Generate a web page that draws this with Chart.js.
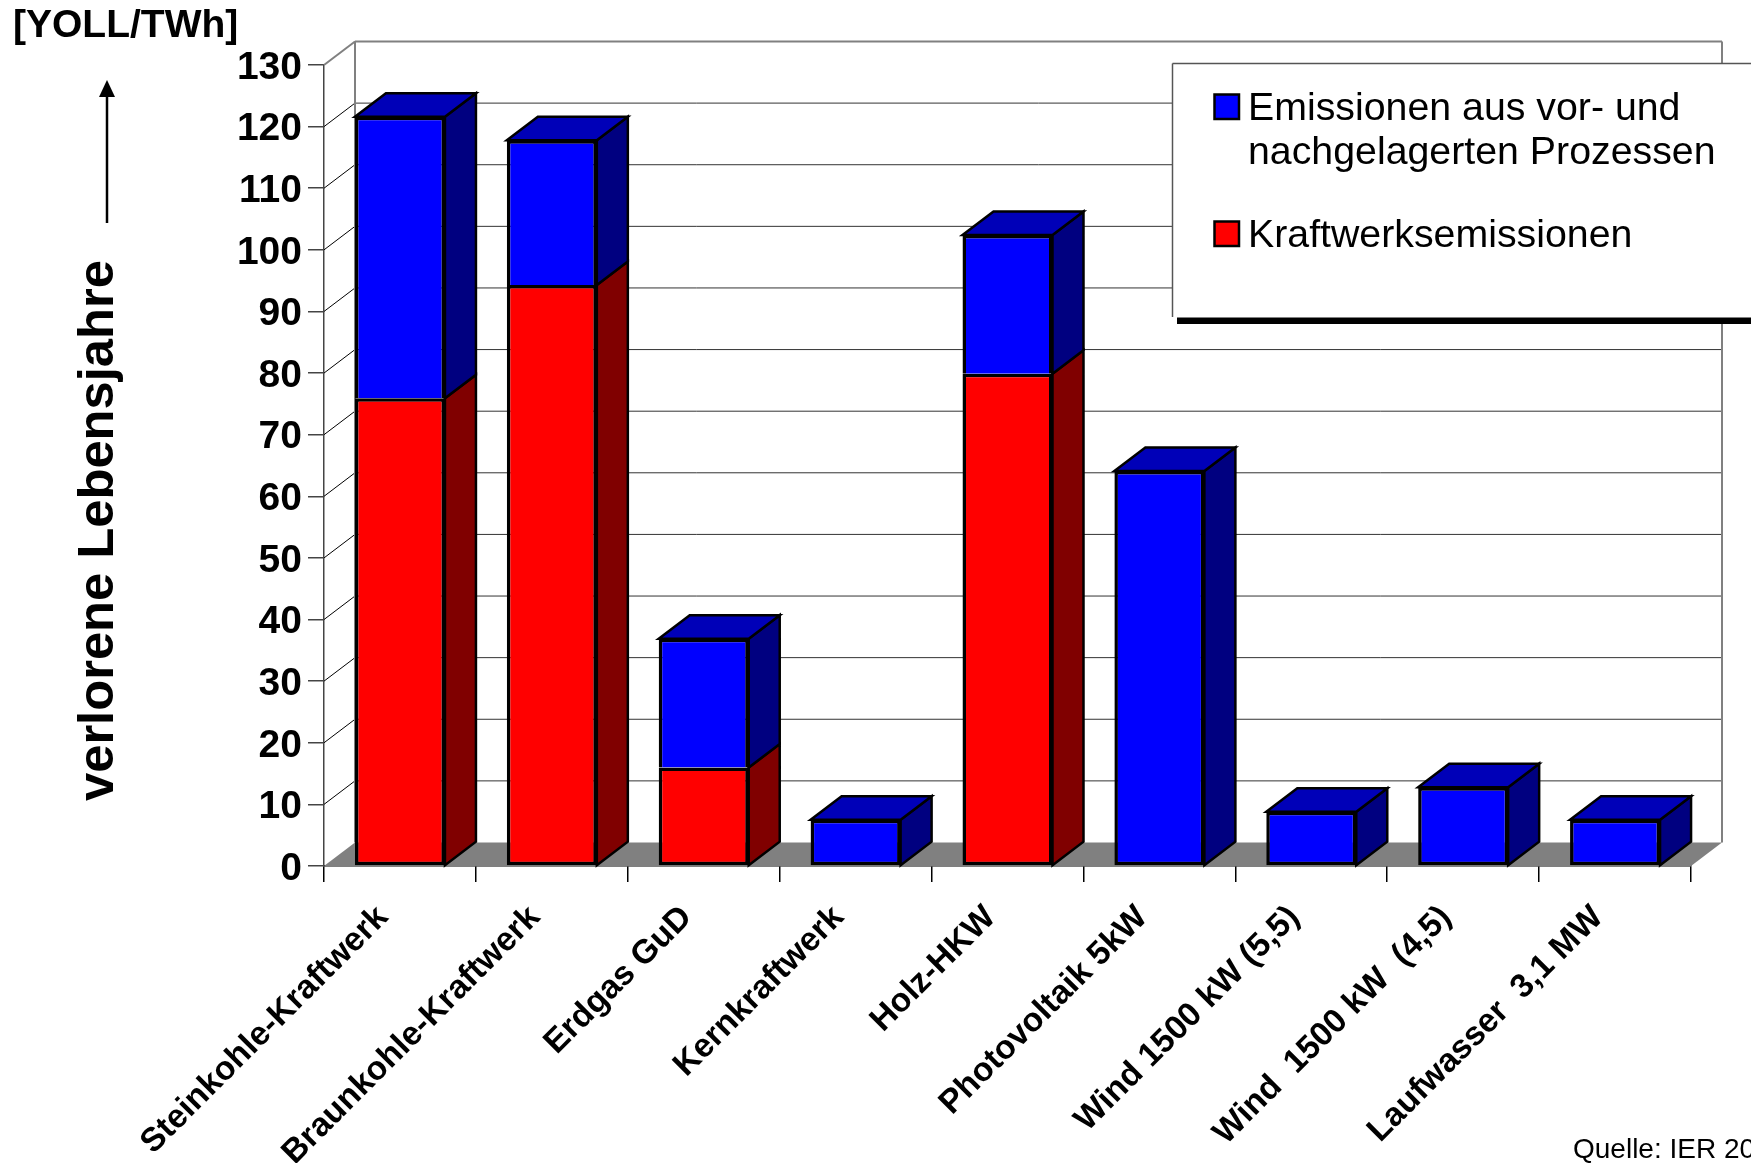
<!DOCTYPE html>
<html>
<head>
<meta charset="utf-8">
<script src="https://cdn.jsdelivr.net/npm/chart.js@4"></script>
<style>
  html, body { margin: 0; padding: 0; background: #fff; overflow: hidden; }
  #myChart { display: block; }
</style>
</head>
<body>
<canvas id="myChart" width="1751" height="1163"></canvas>
<script>
const categories = ['Steinkohle-Kraftwerk', 'Braunkohle-Kraftwerk', 'Erdgas GuD', 'Kernkraftwerk', 'Holz-HKW',
  'Photovoltaik 5kW', 'Wind 1500 kW (5,5)', 'Wind  1500 kW  (4,5)', 'Laufwasser  3,1 MW'];
const kraftwerkValues = [75.9, 94.3, 16, null, 79.9, null, null, null, null];
const prozessValues = [45.7, 23.5, 20.9, 7.5, 22.5, 64.1, 8.8, 12.8, 7.5];

const legendLines = ['Emissionen aus vor- und', 'nachgelagerten Prozessen', 'Kraftwerksemissionen'];
const unitLabel = '[YOLL/TWh]';
const axisLabel = 'verlorene Lebensjahre';
const sourceLabel = 'Quelle: IER 20';

const FONT = '"Liberation Sans", Arial, sans-serif';
// how far the back wall sits behind the front plane
const DEPTH_X = 31;
const DEPTH_Y = 23.5;

function poly(ctx, pts, fill, stroke, lw) {
  ctx.beginPath();
  pts.forEach((p, i) => i ? ctx.lineTo(p[0], p[1]) : ctx.moveTo(p[0], p[1]));
  ctx.closePath();
  if (fill) { ctx.fillStyle = fill; ctx.fill(); }
  if (stroke) { ctx.strokeStyle = stroke; ctx.lineWidth = lw; ctx.stroke(); }
}

function line(ctx, x1, y1, x2, y2, color, lw) {
  ctx.beginPath();
  ctx.moveTo(x1, y1);
  ctx.lineTo(x2, y2);
  ctx.strokeStyle = color;
  ctx.lineWidth = lw;
  ctx.stroke();
}

// walls, floor and back grid
const wallPlugin = {
  id: 'walls',
  beforeDatasetsDraw(chart) {
    const ctx = chart.ctx;
    const { left, right, top, bottom } = chart.chartArea;
    const y = chart.scales.y;
    ctx.save();
    y.ticks.forEach(t => {
      const py = y.getPixelForValue(t.value);
      if (t.value > 0 && t.value < 130) {
        line(ctx, left, py, left + DEPTH_X, py - DEPTH_Y, '#000', 1);
        line(ctx, left + DEPTH_X, py - DEPTH_Y, right + DEPTH_X, py - DEPTH_Y, '#333', 1);
      }
    });
    poly(ctx, [[left, bottom], [left + DEPTH_X, bottom - DEPTH_Y], [right + DEPTH_X, bottom - DEPTH_Y], [right, bottom]], '#808080');
    line(ctx, left, top, left + DEPTH_X, top - DEPTH_Y, '#808080', 2);
    line(ctx, left + DEPTH_X, top - DEPTH_Y, left + DEPTH_X, bottom - DEPTH_Y, '#808080', 2);
    line(ctx, left + DEPTH_X, top - DEPTH_Y, right + DEPTH_X, top - DEPTH_Y, '#808080', 2);
    line(ctx, right + DEPTH_X, top - DEPTH_Y, right + DEPTH_X, bottom - DEPTH_Y, '#808080', 2);
    ctx.restore();
  }
};

// right and top faces of each bar segment
const sidesPlugin = {
  id: 'sides',
  beforeDatasetsDraw(chart) {
    const ctx = chart.ctx;
    ctx.save();
    ctx.lineJoin = 'miter';
    categories.forEach((c, i) => {
      chart.data.datasets.forEach((ds, d) => {
        if (ds.data[i] === null) return;
        const bar = chart.getDatasetMeta(d).data[i];
        const l = bar.x - bar.width / 2;
        const r = bar.x + bar.width / 2;
        poly(ctx, [[r, bar.base], [r + DEPTH_X, bar.base - DEPTH_Y], [r + DEPTH_X, bar.y - DEPTH_Y], [r, bar.y]], ds.sideColor, '#000', 2.5);
        if (d === chart.data.datasets.length - 1) {
          poly(ctx, [[l, bar.y], [l + DEPTH_X, bar.y - DEPTH_Y], [r + DEPTH_X, bar.y - DEPTH_Y], [r, bar.y]], ds.topColor, '#000', 2.5);
        }
      });
    });
    ctx.restore();
  }
};

// legend box, axis captions and source note
const notesPlugin = {
  id: 'notes',
  afterDraw(chart) {
    const ctx = chart.ctx;
    ctx.save();
    ctx.fillStyle = '#000';
    ctx.fillRect(1177, 317, 574, 7);
    ctx.fillStyle = '#fff';
    ctx.fillRect(1172.5, 63.5, 579, 254);
    line(ctx, 1172.5, 63.5, 1751, 63.5, '#555', 1.5);
    line(ctx, 1172.5, 63.5, 1172.5, 317, '#555', 1.5);

    poly(ctx, [[1214.5, 94.5], [1239, 94.5], [1239, 119], [1214.5, 119]], '#0000ff', '#000', 2.5);
    poly(ctx, [[1214.5, 221.5], [1239, 221.5], [1239, 246], [1214.5, 246]], '#ff0000', '#000', 2.5);

    ctx.fillStyle = '#000';
    ctx.textAlign = 'left';
    ctx.textBaseline = 'alphabetic';
    ctx.font = '39.3px ' + FONT;
    ctx.fillText(legendLines[0], 1248, 120);
    ctx.fillText(legendLines[1], 1248, 164);
    ctx.fillText(legendLines[2], 1248, 247);

    ctx.font = 'bold 39px ' + FONT;
    ctx.fillText(unitLabel, 13, 37);

    ctx.font = '28px ' + FONT;
    ctx.fillText(sourceLabel, 1573, 1158);

    ctx.save();
    ctx.translate(113, 801);
    ctx.rotate(-Math.PI / 2);
    ctx.font = 'bold 50.7px ' + FONT;
    ctx.fillText(axisLabel, 0, 0);
    ctx.restore();

    line(ctx, 107, 223, 107, 96, '#000', 2.5);
    poly(ctx, [[107, 80], [99, 97], [115, 97]], '#000');
    ctx.restore();
  }
};

const data = {
  labels: categories,
  datasets: [
    {
      label: 'Kraftwerksemissionen',
      data: kraftwerkValues,
      backgroundColor: '#ff0000',
      sideColor: '#800000',
      topColor: '#b30000',
      borderColor: '#000',
      borderWidth: 3.5,
      borderSkipped: false,
      categoryPercentage: 1,
      barPercentage: 0.5925
    },
    {
      label: 'Emissionen aus vor- und nachgelagerten Prozessen',
      data: prozessValues,
      backgroundColor: '#0000ff',
      sideColor: '#000080',
      topColor: '#0000b8',
      borderColor: '#000',
      borderWidth: 3.5,
      // the red segment underneath already draws the shared edge
      borderSkipped: ctx => (kraftwerkValues[ctx.dataIndex] === null ? false : 'bottom'),
      categoryPercentage: 1,
      barPercentage: 0.5925
    }
  ]
};

const config = {
  type: 'bar',
  data,
  options: {
    responsive: false,
    animation: false,
    layout: { padding: { top: 65, right: 60, left: 0, bottom: 0 } },
    plugins: { legend: { display: false }, tooltip: { enabled: false } },
    scales: {
      x: {
        stacked: true,
        afterFit: s => { s.height = 297; },
        border: { color: '#000', width: 1.5 },
        grid: { drawOnChartArea: false, color: '#000', tickLength: 16, lineWidth: 1.5, offset: true },
        ticks: {
          color: '#000',
          font: { family: FONT, weight: 'bold', size: 33.4 },
          minRotation: 45,
          maxRotation: 45,
          autoSkip: false,
          padding: 16,
          labelOffset: -17
        }
      },
      y: {
        stacked: true,
        min: 0,
        max: 130,
        afterFit: s => { s.width = 324; },
        border: { color: '#444', width: 1.5 },
        grid: { drawOnChartArea: false, color: '#444', tickLength: 16, lineWidth: 1.5 },
        ticks: {
          stepSize: 10,
          color: '#000',
          font: { family: FONT, weight: 'bold', size: 39 },
          padding: 6,
          labelOffset: 3
        }
      }
    }
  },
  plugins: [wallPlugin, sidesPlugin, notesPlugin]
};

const myChart = new Chart(document.getElementById('myChart'), config);
</script>
</body>
</html>
